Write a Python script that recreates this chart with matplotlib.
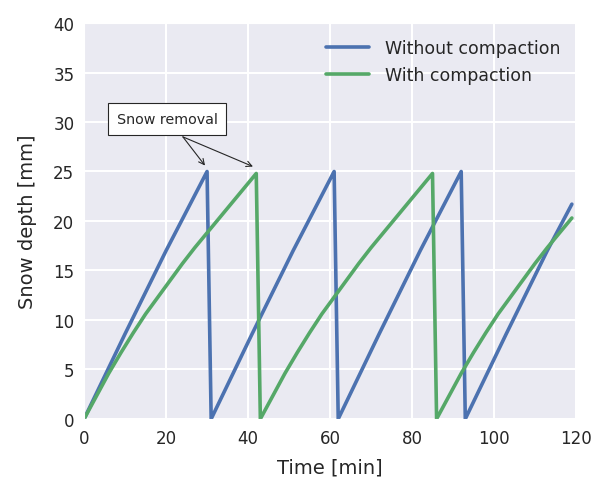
import matplotlib
matplotlib.use("Agg")
import matplotlib.pyplot as plt
import seaborn as sns

# snow depth over time, read at the sawtooth corners
time_plain = [0, 10, 20, 30, 31, 41, 51, 61, 62, 72, 82, 92, 93, 103, 113, 119]
depth_plain = [0, 8.6, 17.0, 25.0, 0, 8.6, 17.0, 25.0, 0, 8.6, 17.0, 25.0, 0, 8.6, 17.0, 21.7]

# compacted snow grows more slowly; one cycle sampled every 3 min
time_compact = [0, 3, 6, 9, 12, 15, 18, 21, 24, 27, 30, 33, 36, 39, 42,
                43, 46, 49, 52, 55, 58, 61, 64, 67, 70, 73, 76, 79, 82, 85,
                86, 89, 92, 95, 98, 101, 104, 107, 110, 113, 116, 119]
depth_compact = [0, 2.3, 4.6, 6.7, 8.7, 10.6, 12.3, 14.0, 15.7, 17.3, 18.8, 20.3, 21.8, 23.3, 24.8,
                 0, 2.3, 4.6, 6.7, 8.7, 10.6, 12.3, 14.0, 15.7, 17.3, 18.8, 20.3, 21.8, 23.3, 24.8,
                 0, 2.3, 4.6, 6.7, 8.7, 10.6, 12.3, 14.0, 15.7, 17.3, 18.8, 20.3]

sns.set_style("darkgrid")
plt.rcParams["font.family"] = ["DejaVu Sans"]
plt.rcParams["text.color"] = "#262626"
plt.rcParams["axes.labelcolor"] = "#262626"
plt.rcParams["xtick.color"] = "#262626"
plt.rcParams["ytick.color"] = "#262626"

fig = plt.figure(figsize=(6.05, 4.81), dpi=100)
ax = fig.add_axes([0.139, 0.127, 0.813, 0.823])

ax.plot(time_plain, depth_plain, color="#4C72B0", lw=2.6, label="Without compaction")
ax.plot(time_compact, depth_compact, color="#55A868", lw=2.6, label="With compaction")

ax.set_xlim(0, 120)
ax.set_ylim(0, 40)
ax.set_xticks(range(0, 121, 20))
ax.set_yticks(range(0, 41, 5))
ax.tick_params(labelsize=12, length=0, pad=7)
ax.grid(color="white", lw=1.5)
ax.set_xlabel("Time [min]", fontsize=14, labelpad=8)
ax.set_ylabel("Snow depth [mm]", fontsize=14, labelpad=12)

ax.legend(loc="upper right", frameon=False, fontsize=12.5, borderaxespad=0.5,
          handlelength=2.5, handletextpad=0.9, labelspacing=0.55)

ax.text(20.3, 30.3, "Snow removal", fontsize=10.3, ha="center", va="center",
        bbox=dict(boxstyle="square,pad=0.6", fc="white", ec="#262626", lw=0.8))
for tip in [(29.5, 25.6), (41.2, 25.5)]:
    ax.annotate("", xy=tip, xytext=(24.1, 28.5),
                arrowprops=dict(arrowstyle="->", color="#262626", lw=0.8,
                                shrinkA=0, shrinkB=0))

fig.savefig("out.png", dpi=100)
